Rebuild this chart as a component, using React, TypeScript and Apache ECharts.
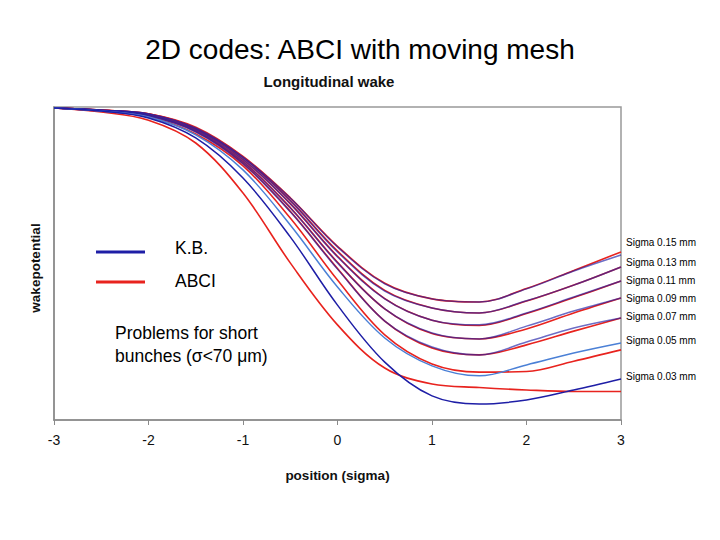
import React, { useEffect, useRef } from "react";
import * as echarts from "echarts";

// positions in units of sigma
const positions = [-3, -2.5, -2, -1.5, -1, -0.5, 0, 0.5, 1, 1.5, 2, 2.5, 3];

// wake potential (arbitrary units, 0 at start, -100 = bottom of frame)
const kb015 = [-0.3, -1.0, -2.2, -6.7, -16.0, -29.1, -44.7, -56.5, -61.3, -62.3, -58.1, -52.4, -47.3];
const abci015 = [-0.3, -1.0, -2.2, -6.5, -15.8, -29.0, -44.5, -56.3, -61.3, -62.3, -58.0, -52.2, -46.3];
const kb013 = [-0.3, -1.0, -2.2, -7.0, -16.3, -30.0, -46.3, -58.8, -64.2, -65.8, -61.9, -56.9, -51.1];
const abci013 = [-0.3, -1.0, -2.2, -6.8, -16.1, -29.8, -46.0, -58.6, -64.2, -65.8, -62.0, -56.9, -51.1];
const kb011 = [-0.3, -1.0, -2.6, -7.3, -16.9, -31.0, -47.9, -61.3, -68.1, -69.6, -65.8, -60.7, -55.6];
const abci011 = [-0.3, -1.0, -2.6, -7.1, -16.7, -30.8, -47.7, -61.2, -68.1, -69.8, -66.0, -60.9, -55.6];
const kb009 = [-0.3, -1.0, -2.6, -7.7, -17.6, -32.3, -49.8, -64.5, -72.2, -74.1, -70.0, -65.2, -61.0];
const abci009 = [-0.3, -1.0, -2.6, -7.5, -17.4, -32.1, -49.6, -64.5, -72.4, -74.1, -70.9, -65.8, -61.0];
const kb007 = [-0.3, -1.3, -2.9, -8.0, -18.2, -33.5, -51.8, -68.4, -76.7, -79.2, -75.1, -70.6, -67.4];
const abci007 = [-0.3, -1.3, -2.9, -7.8, -18.0, -33.3, -51.6, -68.4, -77.0, -79.2, -76.0, -71.6, -67.4];
const kb005 = [-0.3, -1.3, -3.2, -8.9, -20.1, -37.7, -57.5, -73.8, -82.7, -85.9, -82.4, -78.6, -75.4];
const abci005 = [-0.3, -1.3, -3.2, -8.6, -18.8, -35.5, -55.3, -72.8, -82.1, -84.7, -84.5, -81.2, -77.6];
const kb003 = [-0.3, -1.3, -3.5, -9.9, -22.7, -41.5, -63.3, -81.5, -92.3, -94.9, -93.6, -90.4, -86.9];
const abci003 = [-0.3, -1.6, -4.2, -11.5, -27.5, -49.8, -69.6, -83.4, -88.5, -89.6, -90.4, -90.9, -90.9];

const xTicks = [-3, -2, -1, 0, 1, 2, 3];
const sigmaLabels = ["Sigma 0.15 mm", "Sigma 0.13 mm", "Sigma 0.11 mm", "Sigma 0.09 mm", "Sigma 0.07 mm", "Sigma 0.05 mm", "Sigma 0.03 mm"];
const legendNames = ["K.B.", "ABCI"];

const BLUE = "#1e1ea6";
const LIGHTBLUE = "#4b80d6";
const RED = "#e8231e";

const groups = [
  { kb: kb015, abci: abci015, kbColor: BLUE, kbOpacity: 0.65 },
  { kb: kb013, abci: abci013, kbColor: BLUE, kbOpacity: 0.65 },
  { kb: kb011, abci: abci011, kbColor: BLUE, kbOpacity: 0.65 },
  { kb: kb009, abci: abci009, kbColor: BLUE, kbOpacity: 0.65 },
  { kb: kb007, abci: abci007, kbColor: BLUE, kbOpacity: 0.65 },
  { kb: kb005, abci: abci005, kbColor: LIGHTBLUE, kbOpacity: 1 },
  { kb: kb003, abci: abci003, kbColor: BLUE, kbOpacity: 1 },
];

const sigmaLabelY = [242, 262, 280, 298, 316, 340, 376];

export default function App() {
  const ref = useRef<HTMLDivElement>(null);
  useEffect(() => {
    if (!ref.current) return;
    const chart = echarts.init(ref.current, null, { renderer: "svg" });
    const series: any[] = [];
    groups.forEach((g, i) => {
      series.push({
        type: "line",
        name: "ABCI " + sigmaLabels[i],
        data: positions.map((p, k) => [p, g.abci[k]]),
        showSymbol: false,
        smooth: 0.35,
        lineStyle: { color: RED, width: 1.6 },
        z: 2,
      });
      series.push({
        type: "line",
        name: "K.B. " + sigmaLabels[i],
        data: positions.map((p, k) => [p, g.kb[k]]),
        showSymbol: false,
        smooth: 0.35,
        lineStyle: { color: g.kbColor, width: 1.5, opacity: g.kbOpacity },
        z: 3,
      });
    });

    const font = "Arial, 'Liberation Sans', sans-serif";
    const graphic: any[] = [
      { type: "line", shape: { x1: 96, y1: 252, x2: 145, y2: 252 }, style: { stroke: BLUE, lineWidth: 3 } },
      { type: "line", shape: { x1: 96, y1: 282, x2: 145, y2: 282 }, style: { stroke: RED, lineWidth: 3 } },
      { type: "text", x: 175, y: 248, style: { text: legendNames[0], fontSize: 17.5, fontFamily: font, fill: "#000", verticalAlign: "middle" } },
      { type: "text", x: 175, y: 281, style: { text: legendNames[1], fontSize: 17.5, fontFamily: font, fill: "#000", verticalAlign: "middle" } },
      { type: "text", x: 115, y: 333, style: { text: "Problems for short", fontSize: 17.5, fontFamily: font, fill: "#000", verticalAlign: "middle" } },
      { type: "text", x: 115, y: 356, style: { text: "bunches (σ<70 μm)", fontSize: 17.5, fontFamily: font, fill: "#000", verticalAlign: "middle" } },
      { type: "text", x: 329, y: 81, style: { text: "Longitudinal wake", fontSize: 15, fontWeight: "bold", fontFamily: font, fill: "#111", align: "center", verticalAlign: "middle" } },
      { type: "text", x: 35, y: 268, rotation: Math.PI / 2, style: { text: "wakepotential", fontSize: 13.5, fontWeight: "bold", fontFamily: font, fill: "#111", align: "center", verticalAlign: "middle" } },
    ];
    sigmaLabels.forEach((t, i) => {
      graphic.push({ type: "text", x: 626, y: sigmaLabelY[i], style: { text: t, fontSize: 10, fontFamily: font, fill: "#000", verticalAlign: "middle" } });
    });

    chart.setOption({
      animation: false,
      backgroundColor: "#fff",
      title: {
        text: "2D codes: ABCI with moving mesh",
        left: "center",
        top: 30,
        textStyle: { fontSize: 28, fontWeight: "normal", fontFamily: font, color: "#000" },
      },
      grid: { left: 54, right: 99, top: 107, bottom: 120, show: true, borderColor: "#999", borderWidth: 1.5, backgroundColor: "transparent" },
      xAxis: {
        type: "value",
        min: -3,
        max: 3,
        interval: 1,
        name: "position (sigma)",
        nameLocation: "middle",
        nameGap: 48,
        nameTextStyle: { fontSize: 13.5, fontWeight: "bold", fontFamily: font, color: "#111" },
        axisLine: { onZero: false, lineStyle: { color: "#8a8a8a", width: 1.5 } },
        axisTick: { show: true, length: 5, lineStyle: { color: "#8a8a8a" } },
        axisLabel: { fontSize: 14, fontFamily: font, color: "#111", margin: 13, formatter: (v: number) => (xTicks.includes(v) ? String(v) : "") },
        splitLine: { show: false },
      },
      yAxis: {
        type: "value",
        min: -100,
        max: 0,
        axisLine: { show: true, onZero: false, lineStyle: { color: "#8a8a8a", width: 1.5 } },
        axisTick: { show: false },
        axisLabel: { show: false },
        splitLine: { show: false },
      },
      series,
      graphic,
    });
    return () => chart.dispose();
  }, []);
  return <div ref={ref} style={{ position: "fixed", left: 0, top: 0, width: 720, height: 540 }} />;
}
